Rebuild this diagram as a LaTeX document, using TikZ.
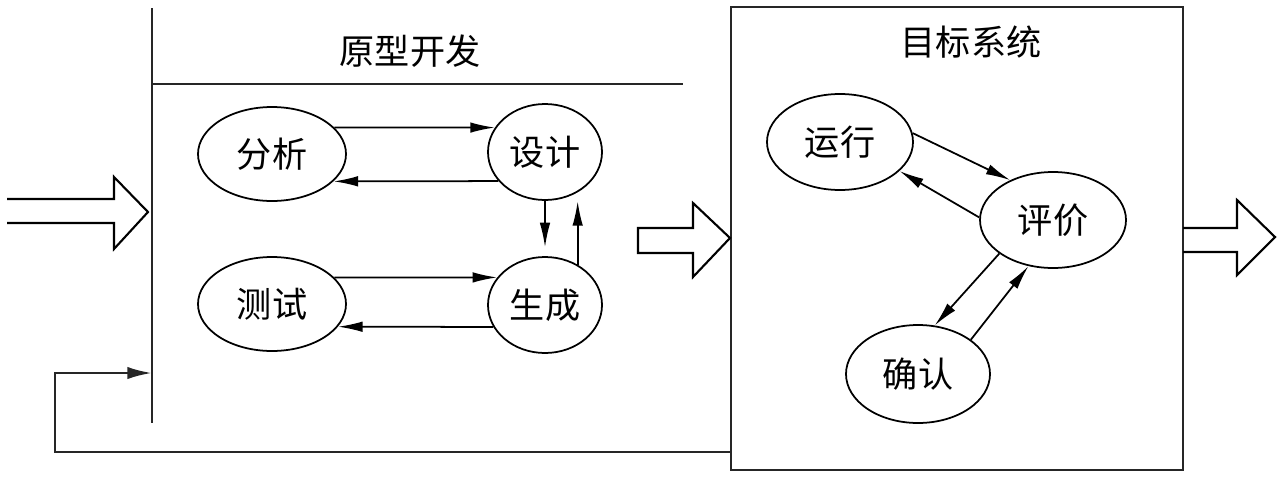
\documentclass[tikz,border=0pt]{standalone}
\usepackage{fontspec}
\newfontfamily\cjk{Noto Sans CJK SC}
\usetikzlibrary{arrows.meta,shapes.geometric}
\begin{document}
\begin{tikzpicture}[x=0.02cm,y=-0.02cm,
  frame/.style={line width=1.5pt, draw=black!85},
  ell/.style={ellipse, draw, line width=1pt, inner sep=0pt, font=\cjk\fontsize{20}{24}\selectfont},
  conn/.style={line width=1pt, -{Latex[length=14pt,width=6pt]}},
  hollow/.style={line width=1.2pt, line join=miter},
  ttl/.style={font=\cjk\fontsize{20}{24}\selectfont, inner sep=0pt}
]
\useasboundingbox (0,0) rectangle (1280,477);

% left part: prototype development
\coordinate (vtop) at (152,8);
\coordinate (vbot) at (152,423);
\draw[frame] (vtop) -- (vbot);
\coordinate (hl) at (152,84);
\coordinate (hr) at (683,84);
\draw[frame] (hl) -- (hr);
\node[ttl] (t1) at (410,51) {原型开发};

\node[ell, minimum width=148*0.02cm, minimum height=94*0.02cm] (fenxi) at (272,154) {分析};
\node[ell, minimum width=114*0.02cm, minimum height=96*0.02cm] (sheji) at (545,152) {设计};
\node[ell, minimum width=148*0.02cm, minimum height=94*0.02cm] (ceshi) at (272,304) {测试};
\node[ell, minimum width=114*0.02cm, minimum height=96*0.02cm] (sc) at (545,305) {生成};

\draw[conn] (fenxi.23) -- (sheji.154);
\draw[conn] (sheji.212.6) -- (fenxi.-24);
\draw[conn, shorten >=5pt] (sheji.south) -- (sc.north);
\draw[conn, shorten >=5pt] (sc.51) -- (sheji.-51);
\draw[conn] (ceshi.23) -- (sc.150);
\draw[conn] (sc.203.5) -- (ceshi.-19.6);

% right part: target system
\draw[frame] (731,7) rectangle (1183,470);
\coordinate (boxfb) at (731,452);
\node[ttl] (t2) at (971,42) {目标系统};

\node[ell, minimum width=146*0.02cm, minimum height=96*0.02cm] (yx) at (840,142) {运行};
\node[ell, minimum width=146*0.02cm, minimum height=96*0.02cm] (pj) at (1053,220) {评价};
\node[ell, minimum width=144*0.02cm, minimum height=98*0.02cm] (qr) at (918,374) {确认};

\draw[conn] (yx.7) -- (pj.137.6);
\draw[conn] (pj.178) -- (yx.-26.6);
\draw[conn] (pj.212.5) -- (qr.71.6);
\draw[conn] (qr.33.7) -- (pj.242);

% feedback loop
\coordinate (fb1) at (55,452);
\coordinate (fb2) at (55,373);
\coordinate (fbin) at (152,373);
\draw[frame, -{Latex[length=14pt,width=7pt]}] (boxfb) -- (fb1) -- (fb2) -- (fbin);

% hollow arrows
\draw[hollow] (7,199) -- (114,199) -- (114,177) -- (148,212) -- (114,249) -- (114,223) -- (7,223);
\draw[hollow] (638,228) -- (693,228) -- (693,203) -- (730,238) -- (693,277) -- (693,253) -- (638,253) -- cycle;
\draw[hollow] (1183,228) -- (1237,228) -- (1237,200) -- (1275,237) -- (1237,275) -- (1237,252) -- (1183,252);
\end{tikzpicture}
\end{document}
